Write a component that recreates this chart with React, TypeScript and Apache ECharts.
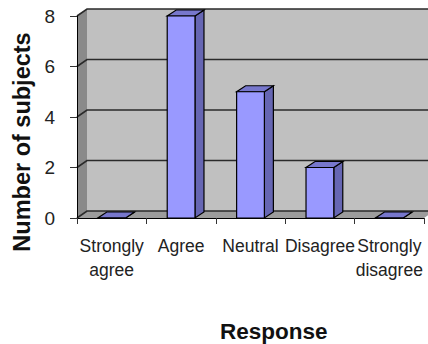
import React, { useEffect, useRef } from "react";
import * as echarts from "echarts";

const categories = ["Strongly\nagree", "Agree", "Neutral", "Disagree", "Strongly\ndisagree"];
const values = [0, 8, 5, 2, 0];
const yTicks = [0, 2, 4, 6, 8];
const yMin = 0;
const yMax = 8;
const yInterval = 2;
const xTitle = "Response";
const yTitle = "Number of subjects";

const FONT = "'Liberation Sans', Arial, sans-serif";
const WALL_DX = 10;
const WALL_DY = -7;
const BAR_DX = 9;
const BAR_DY = -6;

export default function App() {
  const ref = useRef<HTMLDivElement>(null);
  useEffect(() => {
    if (!ref.current) return;
    const chart = echarts.init(ref.current, undefined, { renderer: "svg" });
    const option: any = {
      animation: false,
      backgroundColor: "#ffffff",
      title: {
        text: xTitle,
        left: 220,
        top: 320,
        padding: 0,
        textStyle: { fontSize: 22.5, lineHeight: 23, fontWeight: "bold", color: "#111", fontFamily: FONT },
      },
      grid: { left: 77, right: 4, top: 16, bottom: 126, containLabel: false, outerBoundsMode: "none" },
      xAxis: {
        type: "category",
        data: categories,
        z: 10,
        axisLine: { show: true, lineStyle: { color: "#000", width: 1 } },
        axisTick: { show: true, length: 6, lineStyle: { color: "#333" } },
        axisLabel: {
          interval: 0,
          fontSize: 17.5,
          lineHeight: 24,
          margin: 16,
          color: "#222",
          fontFamily: FONT,
          hideOverlap: false,
        },
        splitLine: { show: false },
      },
      yAxis: {
        type: "value",
        min: yMin,
        max: yMax,
        interval: yInterval,
        z: 10,
        name: yTitle,
        nameLocation: "middle",
        nameRotate: 90,
        nameGap: 40,
        nameTextStyle: {
          fontSize: 23.5,
          fontWeight: "bold",
          color: "#111",
          fontFamily: FONT,
          padding: [0, 50, 0, 0],
        },
        axisLine: { show: true, lineStyle: { color: "#000", width: 1 } },
        axisTick: { show: true, length: 7, lineStyle: { color: "#333" } },
        axisLabel: { fontSize: 19, margin: 22, color: "#222", fontFamily: FONT },
        splitLine: { show: false },
      },
      series: [
        {
          type: "custom",
          z: 1,
          silent: true,
          clip: false,
          data: [[0, 0]],
          renderItem: (params: any, api: any) => {
            const cs = params.coordSys;
            const x0 = cs.x;
            const y0 = cs.y;
            const x1 = cs.x + cs.width;
            const y1 = cs.y + cs.height;
            const children: any[] = [];
            children.push({
              type: "rect",
              shape: { x: x0 + WALL_DX, y: y0 + WALL_DY, width: cs.width, height: cs.height },
              style: { fill: "#C0C0C0" },
            });
            children.push({
              type: "polygon",
              shape: {
                points: [
                  [x0, y0],
                  [x0 + WALL_DX, y0 + WALL_DY],
                  [x0 + WALL_DX, y1 + WALL_DY],
                  [x0, y1],
                ],
              },
              style: { fill: "#8A8A8A" },
            });
            children.push({
              type: "polygon",
              shape: {
                points: [
                  [x0, y1],
                  [x0 + WALL_DX, y1 + WALL_DY],
                  [x1 + WALL_DX, y1 + WALL_DY],
                  [x1, y1],
                ],
              },
              style: { fill: "#9C9C9C" },
            });
            yTicks.forEach((v) => {
              const y = api.coord([0, v])[1];
              children.push({
                type: "polyline",
                shape: {
                  points: [
                    [x0, y],
                    [x0 + WALL_DX, y + WALL_DY],
                    [x1 + WALL_DX, y + WALL_DY],
                  ],
                },
                style: { fill: null, stroke: "#2a2a2a", lineWidth: 1.6 },
              });
            });
            return { type: "group", children };
          },
        },
        {
          type: "custom",
          z: 5,
          clip: false,
          data: values.map((v, i) => [i, v]),
          encode: { x: 0, y: 1 },
          renderItem: (params: any, api: any) => {
            const i = api.value(0);
            const v = api.value(1);
            const p0 = api.coord([i, 0]);
            const p1 = api.coord([i, v]);
            const bw = api.size([1, 0])[0] * 0.4;
            const x = p0[0] - bw / 2;
            const yb = p0[1];
            const yt = p1[1];
            const stroke = { stroke: "#000", lineWidth: 1.2 };
            return {
              type: "group",
              children: [
                {
                  type: "polygon",
                  shape: {
                    points: [
                      [x + bw, yt],
                      [x + bw + BAR_DX, yt + BAR_DY],
                      [x + bw + BAR_DX, yb + BAR_DY],
                      [x + bw, yb],
                    ],
                  },
                  style: { fill: "#6666B3", ...stroke },
                },
                {
                  type: "polygon",
                  shape: {
                    points: [
                      [x, yt],
                      [x + bw, yt],
                      [x + bw + BAR_DX, yt + BAR_DY],
                      [x + BAR_DX, yt + BAR_DY],
                    ],
                  },
                  style: { fill: "#7777CC", ...stroke },
                },
                {
                  type: "rect",
                  shape: { x, y: yt, width: bw, height: yb - yt },
                  style: { fill: "#9999FF", ...stroke },
                },
              ],
            };
          },
        },
      ],
    };
    chart.setOption(option);
    return () => chart.dispose();
  }, []);
  return (
    <div
      ref={ref}
      style={{ position: "absolute", left: 0, top: 0, width: 428, height: 344 }}
    />
  );
}
